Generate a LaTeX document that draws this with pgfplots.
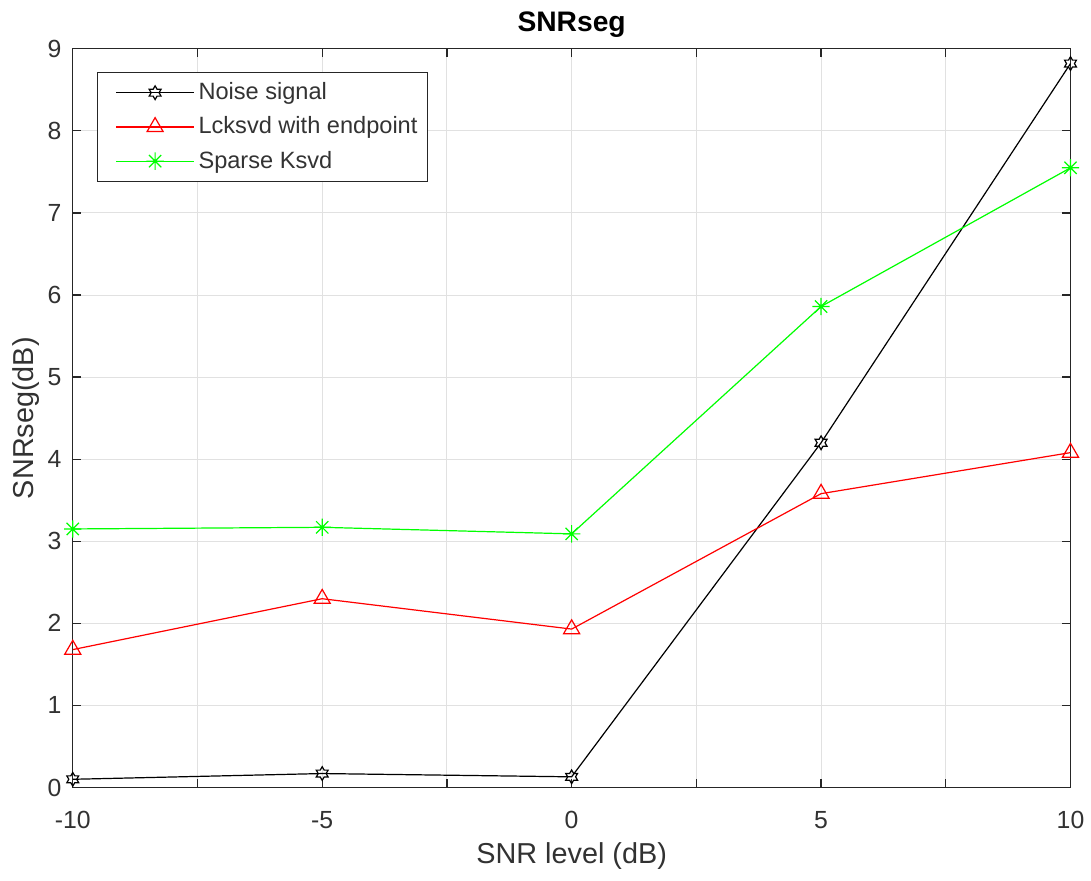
\documentclass[border=0pt]{standalone}
\usepackage{fontspec}
\setmainfont{Liberation Sans}
\usepackage{pgfplots}
\pgfplotsset{compat=1.18}
\pgfdeclareplotmark{hexagram}{%
  \pgfpathmoveto{\pgfpointpolar{90}{\pgfplotmarksize}}%
  \pgfpathlineto{\pgfpointpolar{120}{0.577\pgfplotmarksize}}%
  \pgfpathlineto{\pgfpointpolar{150}{\pgfplotmarksize}}%
  \pgfpathlineto{\pgfpointpolar{180}{0.577\pgfplotmarksize}}%
  \pgfpathlineto{\pgfpointpolar{210}{\pgfplotmarksize}}%
  \pgfpathlineto{\pgfpointpolar{240}{0.577\pgfplotmarksize}}%
  \pgfpathlineto{\pgfpointpolar{270}{\pgfplotmarksize}}%
  \pgfpathlineto{\pgfpointpolar{300}{0.577\pgfplotmarksize}}%
  \pgfpathlineto{\pgfpointpolar{330}{\pgfplotmarksize}}%
  \pgfpathlineto{\pgfpointpolar{0}{0.577\pgfplotmarksize}}%
  \pgfpathlineto{\pgfpointpolar{30}{\pgfplotmarksize}}%
  \pgfpathlineto{\pgfpointpolar{60}{0.577\pgfplotmarksize}}%
  \pgfpathclose
  \pgfusepathqstroke}
\pgfdeclareplotmark{matstar}{%
  \pgfpathmoveto{\pgfqpoint{-\pgfplotmarksize}{0pt}}\pgfpathlineto{\pgfqpoint{\pgfplotmarksize}{0pt}}%
  \pgfpathmoveto{\pgfqpoint{0pt}{-\pgfplotmarksize}}\pgfpathlineto{\pgfqpoint{0pt}{\pgfplotmarksize}}%
  \pgfpathmoveto{\pgfqpoint{-0.707\pgfplotmarksize}{-0.707\pgfplotmarksize}}\pgfpathlineto{\pgfqpoint{0.707\pgfplotmarksize}{0.707\pgfplotmarksize}}%
  \pgfpathmoveto{\pgfqpoint{-0.707\pgfplotmarksize}{0.707\pgfplotmarksize}}\pgfpathlineto{\pgfqpoint{0.707\pgfplotmarksize}{-0.707\pgfplotmarksize}}%
  \pgfusepathqstroke}
\definecolor{gridgray}{RGB}{225,225,225}
\definecolor{ticktext}{RGB}{50,50,50}
\begin{document}
\begin{tikzpicture}
\begin{axis}[
  width=495pt, height=366.5pt, scale only axis,
  xmin=-10, xmax=10, ymin=0, ymax=9,
  xtick={-10,-7.5,-5,-2.5,0,2.5,5,7.5,10},
  xticklabels={-10,,-5,,0,,5,,10},
  ytick={0,1,...,9},
  tick align=inside, tick pos=both,
  major tick length=4pt,
  grid=major,
  major grid style={gridgray, line width=0.5pt},
  axis line style={black!85, line width=0.6pt},
  tick style={black!85, line width=0.6pt},
  /pgf/number format/assume math mode=true,
  ticklabel style={font=\fontsize{12.3}{14}\selectfont, text=ticktext},
  xticklabel style={yshift=-8pt},
  yticklabel style={xshift=-2pt},
  xlabel={SNR level (dB)}, ylabel={SNRseg(dB)},
  xlabel style={font=\fontsize{14.3}{16}\selectfont, text=ticktext, yshift=0pt},
  ylabel style={font=\fontsize{14.3}{16}\selectfont, text=ticktext, yshift=-3pt},
  title={\textbf{SNRseg}},
  title style={font=\fontsize{14}{16}\selectfont, yshift=-4pt},
  legend style={at={(0,1)}, anchor=north west, xshift=12pt, yshift=-11.5pt,
    font=\fontsize{11.7}{13}\selectfont,
    draw=black!85, line width=0.6pt, inner xsep=3pt, inner ysep=3pt, row sep=3pt,
    text=black!80},
  legend cell align=left,
  legend image code/.code={\path (0pt,0pt); \draw[#1, mark=none] (6pt,0pt) -- (44.5pt,0pt); \draw[#1, only marks] plot coordinates {(25.25pt,0pt)};},
  line width=0.6pt,
]
\addplot[black, mark=hexagram, mark size=3.4pt, mark options={line width=0.6pt}] coordinates {
  (-10,0.10) (-5,0.17) (0,0.13) (5,4.20) (10,8.82)};
\addlegendentry{Noise signal}
\addplot[red, mark=triangle, mark size=4.6pt, mark options={line width=0.6pt}] coordinates {
  (-10,1.68) (-5,2.30) (0,1.93) (5,3.58) (10,4.08)};
\addlegendentry{Lcksvd with endpoint}
\addplot[green, mark=matstar, mark size=4.3pt, mark options={line width=0.6pt}] coordinates {
  (-10,3.15) (-5,3.17) (0,3.09) (5,5.86) (10,7.55)};
\addlegendentry{Sparse Ksvd}
\end{axis}
\path ([xshift=-3pt,yshift=2.5pt]current bounding box.north west);
\path ([yshift=-2pt]current bounding box.south);
\end{tikzpicture}
\end{document}
